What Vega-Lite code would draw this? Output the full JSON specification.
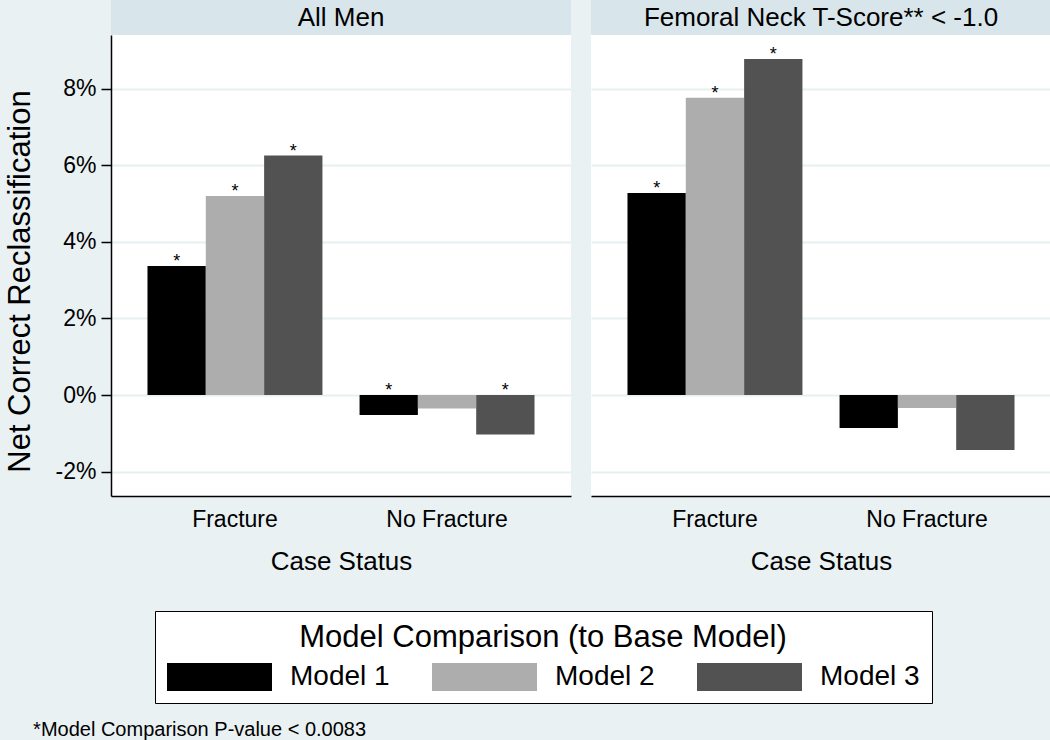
{
  "$schema": "https://vega.github.io/schema/vega-lite/v6.json",
  "background": "#E9F1F3",
  "padding": {"left": 4, "top": 0, "right": 0, "bottom": 4},
  "config": {
    "font": "Liberation Sans",
    "view": {"stroke": null},
    "axis": {
      "labelColor": "black",
      "titleColor": "black",
      "titleFontWeight": "normal",
      "domainColor": "black",
      "tickColor": "black",
      "gridColor": "#E6EFF2",
      "gridWidth": 2
    }
  },
  "datasets": {
    "d": [
      {"panel": "All Men", "status": "Fracture", "model": "Model 1", "value": 3.37, "sig": true},
      {"panel": "All Men", "status": "Fracture", "model": "Model 2", "value": 5.2, "sig": true},
      {"panel": "All Men", "status": "Fracture", "model": "Model 3", "value": 6.26, "sig": true},
      {"panel": "All Men", "status": "No Fracture", "model": "Model 1", "value": -0.52, "sig": true},
      {"panel": "All Men", "status": "No Fracture", "model": "Model 2", "value": -0.35, "sig": false},
      {"panel": "All Men", "status": "No Fracture", "model": "Model 3", "value": -1.03, "sig": true},
      {"panel": "Femoral", "status": "Fracture", "model": "Model 1", "value": 5.28, "sig": true},
      {"panel": "Femoral", "status": "Fracture", "model": "Model 2", "value": 7.77, "sig": true},
      {"panel": "Femoral", "status": "Fracture", "model": "Model 3", "value": 8.78, "sig": true},
      {"panel": "Femoral", "status": "No Fracture", "model": "Model 1", "value": -0.86, "sig": false},
      {"panel": "Femoral", "status": "No Fracture", "model": "Model 2", "value": -0.34, "sig": false},
      {"panel": "Femoral", "status": "No Fracture", "model": "Model 3", "value": -1.44, "sig": false}
    ]
  },
  "title": {
    "text": "*Model Comparison P-value < 0.0083",
    "orient": "bottom",
    "anchor": "start",
    "frame": "bounds",
    "fontSize": 20,
    "fontWeight": "normal",
    "color": "black",
    "offset": 16,
    "dx": 29
  },
  "spacing": 20,
  "resolve": {"scale": {"color": "shared"}, "legend": {"color": "shared"}},
  "hconcat": [
    {
      "spacing": 0,
      "bounds": "flush",
      "vconcat": [
        {
          "width": 460,
          "height": 35,
          "view": {"fill": "#D8E5EA", "stroke": null},
          "data": {"values": [{"t": "All Men"}]},
          "mark": {"type": "text", "fontSize": 26, "color": "black"},
          "encoding": {"text": {"field": "t"}}
        },
        {
          "width": 460,
          "height": 461,
          "view": {"fill": "white", "stroke": null},
          "data": {"name": "d"},
          "transform": [{"filter": "datum.panel === 'All Men'"}],
          "encoding": {
            "x": {
              "field": "status", "type": "nominal", "sort": ["Fracture", "No Fracture"],
              "scale": {"paddingInner": 0.175, "paddingOuter": 0.172},
              "axis": {"title": "Case Status", "labelAngle": 0, "ticks": false, "labelFontSize": 23, "labelPadding": 12, "titleFontSize": 26, "titlePadding": 17, "domainWidth": 1.5}
            },
            "xOffset": {"field": "model", "type": "nominal", "sort": ["Model 1", "Model 2", "Model 3"], "scale": {"paddingInner": 0, "paddingOuter": 0}},
            "y": {
              "field": "value", "type": "quantitative",
              "scale": {"domain": [-2.64, 9.41], "nice": false, "zero": false},
              "axis": {"title": "Net Correct Reclassification", "titleFontSize": 31, "titlePadding": 19, "titleY": 246, "values": [-2, 0, 2, 4, 6, 8], "labelExpr": "datum.value + '%'", "labelFontSize": 23, "labelPadding": 5, "tickSize": 10, "tickWidth": 1.5, "domainWidth": 1.5, "grid": true}
            }
          },
          "layer": [
            {
              "mark": {"type": "bar"},
              "encoding": {
                "color": {
                  "field": "model", "type": "nominal",
                  "scale": {"domain": ["Model 1", "Model 2", "Model 3"], "range": ["#000000", "#ADADAD", "#525252"]},
                  "legend": {
                    "orient": "none", "legendX": 44, "legendY": 611,
                    "direction": "horizontal", "columns": 3,
                    "title": "Model Comparison (to Base Model)",
                    "titleFontSize": 31, "titleFontWeight": "normal", "titleColor": "black", "titleAnchor": "middle", "titlePadding": 9, "titleLimit": 800,
                    "symbolType": "M-1,-1H6.5V1H-1Z", "symbolSize": 784, "symbolStrokeWidth": 0, "symbolOpacity": 1,
                    "labelFontSize": 28, "labelColor": "black", "labelOffset": 95, "labelLimit": 300,
                    "columnPadding": 42, "padding": 12, "strokeColor": "black", "fillColor": "white"
                  }
                }
              }
            },
            {
              "transform": [{"filter": "datum.sig && datum.value > 0"}],
              "mark": {"type": "text", "text": "*", "fontSize": 18, "baseline": "alphabetic", "dy": 1, "color": "black"}
            },
            {
              "transform": [{"filter": "datum.sig && datum.value < 0"}],
              "mark": {"type": "text", "text": "*", "fontSize": 18, "baseline": "alphabetic", "dy": 1, "color": "black"},
              "encoding": {"y": {"datum": 0}}
            }
          ]
        }
      ]
    },
    {
      "spacing": 0,
      "bounds": "flush",
      "vconcat": [
        {
          "width": 460,
          "height": 35,
          "view": {"fill": "#D8E5EA", "stroke": null},
          "data": {"values": [{"t": "Femoral Neck T-Score** < -1.0"}]},
          "mark": {"type": "text", "fontSize": 26, "color": "black"},
          "encoding": {"text": {"field": "t"}}
        },
        {
          "width": 460,
          "height": 461,
          "view": {"fill": "white", "stroke": null},
          "data": {"name": "d"},
          "transform": [{"filter": "datum.panel === 'Femoral'"}],
          "encoding": {
            "x": {
              "field": "status", "type": "nominal", "sort": ["Fracture", "No Fracture"],
              "scale": {"paddingInner": 0.175, "paddingOuter": 0.172},
              "axis": {"title": "Case Status", "labelAngle": 0, "ticks": false, "labelFontSize": 23, "labelPadding": 12, "titleFontSize": 26, "titlePadding": 17, "domainWidth": 1.5}
            },
            "xOffset": {"field": "model", "type": "nominal", "sort": ["Model 1", "Model 2", "Model 3"], "scale": {"paddingInner": 0, "paddingOuter": 0}},
            "y": {
              "field": "value", "type": "quantitative",
              "scale": {"domain": [-2.64, 9.41], "nice": false, "zero": false},
              "axis": {"title": null, "labels": false, "ticks": false, "domain": false, "values": [-2, 0, 2, 4, 6, 8], "grid": true, "minExtent": 0, "maxExtent": 0}
            }
          },
          "layer": [
            {
              "mark": {"type": "bar"},
              "encoding": {
                "color": {"field": "model", "type": "nominal", "scale": {"domain": ["Model 1", "Model 2", "Model 3"], "range": ["#000000", "#ADADAD", "#525252"]}}
              }
            },
            {
              "transform": [{"filter": "datum.sig && datum.value > 0"}],
              "mark": {"type": "text", "text": "*", "fontSize": 18, "baseline": "alphabetic", "dy": 1, "color": "black"}
            },
            {
              "transform": [{"filter": "datum.sig && datum.value < 0"}],
              "mark": {"type": "text", "text": "*", "fontSize": 18, "baseline": "alphabetic", "dy": 1, "color": "black"},
              "encoding": {"y": {"datum": 0}}
            }
          ]
        }
      ]
    }
  ]
}
